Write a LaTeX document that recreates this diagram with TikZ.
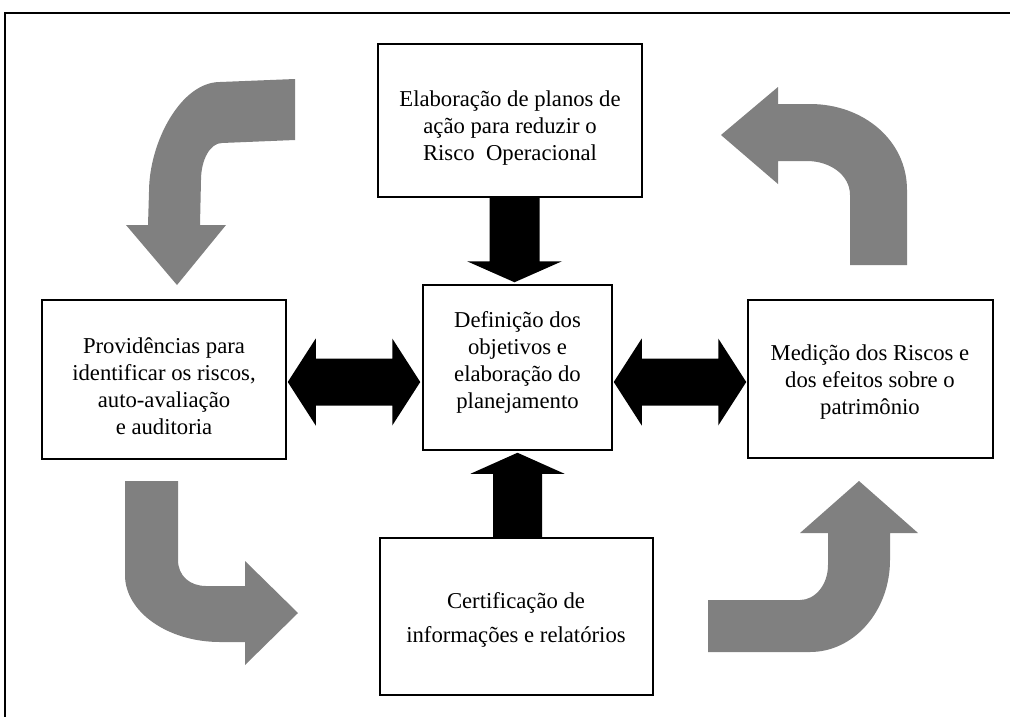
\documentclass[tikz,border=0pt]{standalone}
\usepackage{fontspec}
\setmainfont{Liberation Serif}
\usetikzlibrary{calc}
\definecolor{arrgray}{RGB}{128,128,128}
\begin{document}
\begin{tikzpicture}[x=1pt,y=-1pt,
  box/.style={draw, line width=1.5pt, rectangle, inner sep=0pt, fill=white},
  txt/.style={inner sep=0pt, align=center, font=\fontsize{22.7}{27}\selectfont},
  blk/.style={fill=black},
  garrow/.style={fill=arrgray}]
\clip (0,0) rectangle (1010,716);
\fill[white] (0,0) rectangle (1010,716);
% outer frame
\draw[line width=1.6pt] (5,720) -- (5,13) -- (1015,13);

% boxes
\node[box, minimum width=264, minimum height=153] (T) at (510,120.5) {};
\node[box, minimum width=189, minimum height=165] (C) at (517.5,367.5) {};
\node[box, minimum width=244, minimum height=159] (L) at (164,379.5) {};
\node[box, minimum width=245, minimum height=158] (R) at (870.5,379) {};
\node[box, minimum width=273, minimum height=157] (B) at (516.5,616.5) {};

% texts
\node[txt] (Tt) at (510,128) {Elaboração de planos de\\ação para reduzir o\\Risco~~Operacional};
\node[txt] (Ct) at (517.5,362) {Definição dos\\objetivos e\\elaboração do\\planejamento};
\node[txt] (Lt) at (164,386) {Providências para\\identificar os riscos,\\auto-avaliação\\e auditoria};
\node[txt] (Rt) at (870,382) {Medição dos Riscos e\\dos efeitos sobre o\\patrimônio};
\node[txt] (Bt) at (516,620) {Certificação de\\[7pt]informações e relatórios};

% black arrows
\coordinate (ax1) at (514.5,0);
\coordinate (ax2) at (517.5,0);
\coordinate (ay) at (0,382);
\fill[blk] ($(ax1|-T.south)+(-25,0)$) -- ($(ax1|-T.south)+(25,0)$)
  -- ($(ax1|-C.north)+(25,-23)$) -- ($(ax1|-C.north)+(47.5,-23)$)
  -- ($(ax1|-C.north)+(0,-2)$)
  -- ($(ax1|-C.north)+(-47.5,-23)$) -- ($(ax1|-C.north)+(-25,-23)$) -- cycle;
\fill[blk] ($(ax2|-B.north)+(-24.5,0)$) -- ($(ax2|-B.north)+(24.5,0)$)
  -- ($(ax2|-C.south)+(24.5,23)$) -- ($(ax2|-C.south)+(47,23)$)
  -- ($(ax2|-C.south)+(0,2)$)
  -- ($(ax2|-C.south)+(-47,23)$) -- ($(ax2|-C.south)+(-24.5,23)$) -- cycle;
\fill[blk] ($(L.east|-ay)+(1,0)$) -- ($(L.east|-ay)+(29,-43.5)$) -- ($(L.east|-ay)+(29,-23.5)$)
  -- ($(C.west|-ay)+(-30,-23.5)$) -- ($(C.west|-ay)+(-30,-43.5)$) -- ($(C.west|-ay)+(-2,0)$)
  -- ($(C.west|-ay)+(-30,43.5)$) -- ($(C.west|-ay)+(-30,23.5)$)
  -- ($(L.east|-ay)+(29,23.5)$) -- ($(L.east|-ay)+(29,43.5)$) -- cycle;
\fill[blk] ($(C.east|-ay)+(1,0)$) -- ($(C.east|-ay)+(29,-43.5)$) -- ($(C.east|-ay)+(29,-23.5)$)
  -- ($(R.west|-ay)+(-29,-23.5)$) -- ($(R.west|-ay)+(-29,-43.5)$) -- ($(R.west|-ay)+(-1,0)$)
  -- ($(R.west|-ay)+(-29,43.5)$) -- ($(R.west|-ay)+(-29,23.5)$)
  -- ($(C.east|-ay)+(29,23.5)$) -- ($(C.east|-ay)+(29,43.5)$) -- cycle;

% grey curved arrows
% top-left
\fill[garrow] (295,79) -- (220,82) .. controls (181,82) and (149,142) .. (149,192)
  -- (148,225) -- (126,225) -- (177,285) -- (226,225) -- (200,225) -- (201,180)
  .. controls (201,160) and (210,143) .. (222,143) -- (295,140) -- cycle;
% top-right
\fill[garrow] (721,135) -- (778,87) -- (778,104) -- (810,104)
  .. controls (863,104) and (907,140) .. (907,190) -- (907,265) -- (850,265) -- (850,195)
  .. controls (850,175) and (830,161) .. (807,161) -- (778,161) -- (778,184) -- cycle;
% bottom-left
\fill[garrow] (125,481) -- (178,481) -- (178,560) .. controls (178,576) and (190,586) .. (206,586)
  -- (245,586) -- (245,561) -- (298,613) -- (245,665) -- (245,642) -- (220,642)
  .. controls (168,642) and (125,612) .. (125,575) -- cycle;
% bottom-right
\fill[garrow] (708,600) -- (800,600) .. controls (815,600) and (828,585) .. (828,565)
  -- (828,533) -- (800,533) -- (859,481) -- (918,533) -- (890,533) -- (890,560)
  .. controls (890,611) and (854,652) .. (810,652) -- (708,652) -- cycle;
\end{tikzpicture}
\end{document}
